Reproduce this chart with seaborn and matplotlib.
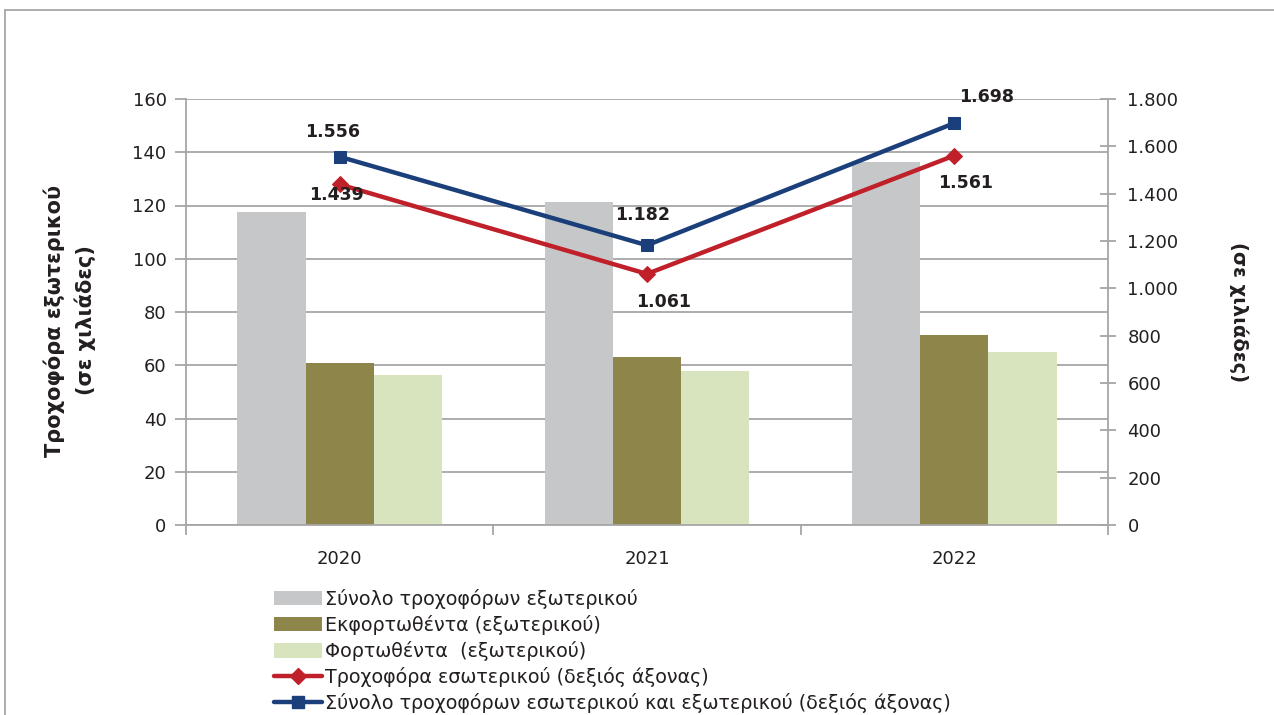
import numpy as np
import pandas as pd
import matplotlib
matplotlib.use("Agg")
import matplotlib.pyplot as plt
from matplotlib.patches import Patch
from matplotlib.lines import Line2D
from matplotlib.ticker import FuncFormatter, MultipleLocator, FixedLocator
import seaborn as sns

# ---- data ----
years = ["2020", "2021", "2022"]
total_foreign = [117.6, 121.3, 136.3]      # Σύνολο τροχοφόρων εξωτερικού (thousands)
unloaded_foreign = [60.8, 63.1, 71.4]      # Εκφορτωθέντα (εξωτερικού)
loaded_foreign = [56.3, 57.8, 65.0]        # Φορτωθέντα (εξωτερικού)
domestic = [1439, 1061, 1561]              # Τροχοφόρα εσωτερικού (right axis)
total_all = [1556, 1182, 1698]             # Σύνολο εσωτερικού και εξωτερικού (right axis)

bar_series = ["Σύνολο τροχοφόρων εξωτερικού",
              "Εκφορτωθέντα (εξωτερικού)",
              "Φορτωθέντα  (εξωτερικού)"]
line_series = ["Τροχοφόρα εσωτερικού (δεξιός άξονας)",
               "Σύνολο τροχοφόρων εσωτερικού και εξωτερικού (δεξιός άξονας)"]

bar_colors = ["#C6C7C9", "#8E854A", "#D7E4BD"]
red = "#C0202A"
blue = "#1B3F7A"
grid_c = "#A6A6A6"
text_c = "#231F20"

df = pd.DataFrame({
    "year": years * 3,
    "series": [bar_series[0]] * 3 + [bar_series[1]] * 3 + [bar_series[2]] * 3,
    "value": total_foreign + unloaded_foreign + loaded_foreign,
})

sns.set_theme(style="white")
plt.rcParams["font.family"] = ["DejaVu Sans"]
plt.rcParams["text.color"] = text_c

fig = plt.figure(figsize=(12.74, 7.15), dpi=100)
ax = fig.add_axes([186 / 1274, 1 - 525 / 715, (1108 - 186) / 1274, (525 - 99) / 715])

sns.barplot(data=df, x="year", y="value", hue="series", hue_order=bar_series,
            palette=bar_colors, width=0.667, gap=0, saturation=1, linewidth=0,
            edgecolor="none", ax=ax, legend=False, errorbar=None)

ax.set_ylim(0, 160)
ax.set_xlim(-0.5, 2.5)
ax.yaxis.set_major_locator(MultipleLocator(20))
ax.grid(axis="y", color=grid_c, linewidth=1.3)
ax.set_axisbelow(True)
for s in ["top", "right"]:
    ax.spines[s].set_visible(False)
for s in ["left", "bottom"]:
    ax.spines[s].set_color(grid_c)
    ax.spines[s].set_linewidth(1.3)
ax.tick_params(axis="y", which="major", direction="out", length=8, width=1.3,
               color=grid_c, labelsize=13, labelcolor=text_c, pad=6, left=True)
ax.xaxis.set_minor_locator(FixedLocator([-0.5, 0.5, 1.5, 2.5]))
ax.tick_params(axis="x", which="major", length=0, labelsize=13, labelcolor=text_c, pad=18)
ax.tick_params(axis="x", which="minor", direction="out", length=7, width=1.3,
               color=grid_c, bottom=True)
ax.set_xlabel("")
ax.set_ylabel("Τροχοφόρα εξωτερικού\n(σε χιλιάδες)", fontsize=15, fontweight="bold",
              color=text_c, linespacing=1.5)
ax.yaxis.set_label_coords(-0.098, 0.48)

ax2 = ax.twinx()
xpos = np.arange(len(years))
sns.lineplot(x=xpos, y=domestic, ax=ax2, color=red, linewidth=3.2,
             marker="D", markersize=8, markeredgecolor=red, legend=False)
sns.lineplot(x=xpos, y=total_all, ax=ax2, color=blue, linewidth=3.2,
             marker="s", markersize=9, markeredgecolor=blue, legend=False)
ax2.set_ylim(0, 1800)
ax2.set_xlim(-0.5, 2.5)
ax2.yaxis.set_major_locator(MultipleLocator(200))
ax2.yaxis.set_major_formatter(FuncFormatter(lambda v, p: f"{int(v):,}".replace(",", ".")))
for s in ["top", "left", "bottom"]:
    ax2.spines[s].set_visible(False)
ax2.spines["right"].set_color(grid_c)
ax2.spines["right"].set_linewidth(1.3)
ax2.tick_params(axis="y", direction="inout", length=12, width=1.3, color=grid_c,
                labelsize=13, labelcolor=text_c, pad=8, right=True)
ax2.grid(False)
ax2.set_ylabel("(σε χιλιάδες)", fontsize=14, fontweight="bold", color=text_c,
               rotation=270, labelpad=50)

# data labels
offsets_domestic = [(-3, -11), (17, -28), (11, -27)]
offsets_total = [(-7, 25), (-4, 30), (32, 26)]
fmt = lambda v: f"{v:,}".replace(",", ".")
for i, v in enumerate(domestic):
    ax2.annotate(fmt(v), (xpos[i], v), xytext=offsets_domestic[i], textcoords="offset pixels",
                 ha="center", va="center", fontsize=12.5, fontweight="bold", color=text_c)
for i, v in enumerate(total_all):
    ax2.annotate(fmt(v), (xpos[i], v), xytext=offsets_total[i], textcoords="offset pixels",
                 ha="center", va="center", fontsize=12.5, fontweight="bold", color=text_c)

# legend
handles = [Patch(facecolor=c, edgecolor="none") for c in bar_colors]
handles += [Line2D([0], [0], color=red, lw=3.2, marker="D", markersize=8),
            Line2D([0], [0], color=blue, lw=3.2, marker="s", markersize=9)]
fig.legend(handles, bar_series + line_series, loc="upper left",
           bbox_to_anchor=(264 / 1274, 1 - 579 / 715), frameon=False,
           fontsize=13.8, handlelength=2.5, handleheight=0.8, handletextpad=0.2,
           labelspacing=0.32, borderpad=0, labelcolor=text_c)

# outer frame
fig.add_artist(Line2D([5 / 1274, 1], [1 - 10 / 715, 1 - 10 / 715],
                      transform=fig.transFigure, color="#A0A0A0", lw=1.2))
fig.add_artist(Line2D([5 / 1274, 5 / 1274], [0, 1 - 10 / 715],
                      transform=fig.transFigure, color="#A0A0A0", lw=1.2))

fig.savefig("out.png", dpi=100)
